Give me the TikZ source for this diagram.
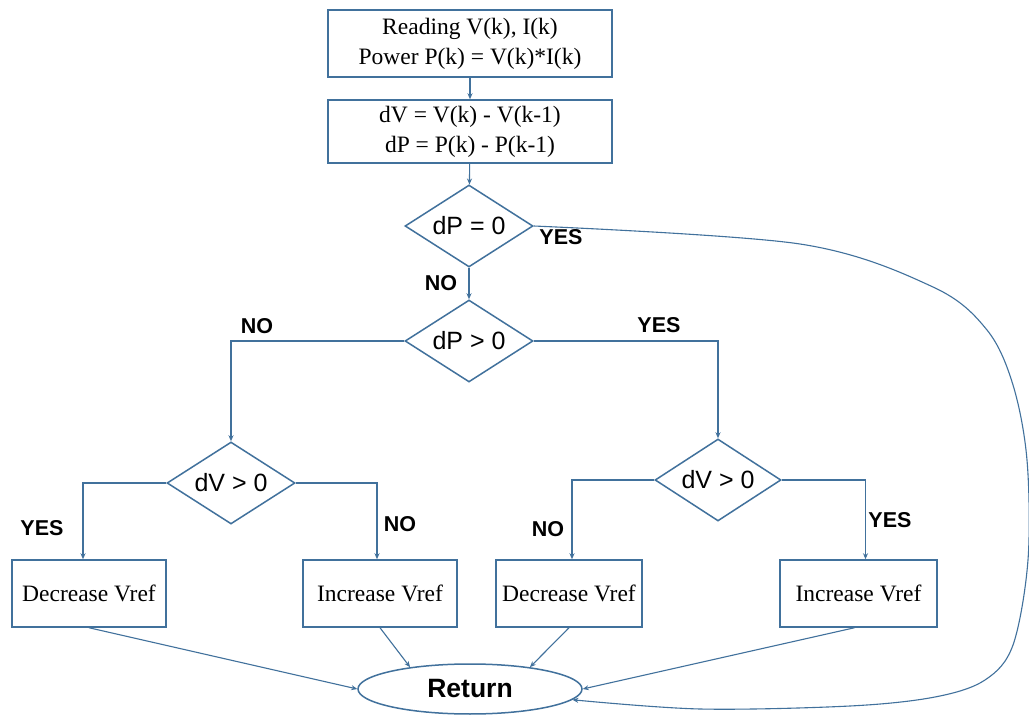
\documentclass[tikz,border=0pt]{standalone}
\usepackage{fontspec}
\setmainfont{Liberation Serif}
\newfontfamily\arial{Liberation Sans}
\usetikzlibrary{shapes.geometric,arrows.meta,calc}
\definecolor{ln}{HTML}{41719C}
\begin{document}
\begin{tikzpicture}[x=1pt,y=-1pt,
  box/.style={draw=ln,line width=1.5pt,rectangle,inner sep=0pt,align=center,font=\fontsize{23.5}{30}\selectfont},
  dia/.style={draw=ln,line width=1.5pt,diamond,inner sep=0pt,minimum width=128pt,minimum height=82pt},
  diatext/.style={font=\arial\fontsize{25}{28}\selectfont,inner sep=0pt},
  lab/.style={font=\arial\bfseries\fontsize{21.5}{24}\selectfont,inner sep=0pt},
  conn/.style={draw=ln,line width=1.1pt,-{Stealth[length=6pt,width=5pt]}}]
\useasboundingbox (0,0) rectangle (1029,719);
\fill[white] (0,0) rectangle (1029,719);
\node[box,minimum width=284pt,minimum height=67pt] (b1) at (470,43.5) {Reading V(k), I(k)\\Power P(k) = V(k)*I(k)};
\node[box,minimum width=284pt,minimum height=63pt] (b2) at (470,131.5) {dV = V(k) - V(k-1)\\dP = P(k) - P(k-1)};
\node[dia,label={[diatext]center:dP = 0}] (d1) at (469,226) {};
\node[dia,label={[diatext]center:dP > 0}] (d2) at (469,341) {};
\node[dia,label={[diatext]center:dV > 0}] (d3) at (231,483) {};
\node[dia,minimum width=126pt,label={[diatext]center:dV > 0}] (d4) at (718,480) {};
\node[box,minimum width=154pt,minimum height=67pt] (b3) at (89,593.5) {Decrease Vref};
\node[box,minimum width=154pt,minimum height=67pt] (b4) at (380,593.5) {Increase Vref};
\node[box,minimum width=146pt,minimum height=67pt] (b5) at (569,593.5) {Decrease Vref};
\node[box,minimum width=157pt,minimum height=67pt] (b6) at (858.5,593.5) {Increase Vref};
\node[draw=ln,line width=1.5pt,ellipse,minimum width=224pt,minimum height=50pt,inner sep=0pt,font=\arial\bfseries\fontsize{26.5}{30}\selectfont] (ret) at (470,689) {Return};
\node[lab] (l1) at (441,283) {NO};
\node[lab] (l2) at (561,237) {YES};
\node[lab] (l3) at (257,326) {NO};
\node[lab] (l4) at (659,325) {YES};
\node[lab] (l5) at (42,528) {YES};
\node[lab] (l6) at (400,524) {NO};
\node[lab] (l7) at (548,529) {NO};
\node[lab] (l8) at (890,520) {YES};
\draw[conn] (b1) -- (b2);
\draw[conn] (b2) -- (d1);
\draw[conn] (d1) -- (d2);
\draw[conn] (d2.west) -| (d3.north);
\draw[conn] (d2.east) -| (d4.north);
\draw[conn] (d3.west) -| ([xshift=-6pt]b3.north);
\draw[conn] (d3.east) -| ([xshift=-3pt]b4.north);
\draw[conn] (d4.west) -| ([xshift=3pt]b5.north);
\draw[conn] (d4.east) -| ([xshift=7pt]b6.north);
\draw[conn] (b3.south) -- (ret.west);
\draw[conn] (b4.south) -- (ret.160);
\draw[conn] (b5.south) -- (ret.20);
\draw[conn] ([xshift=-4pt]b6.south) -- (ret.east);
\draw[conn] plot[smooth,tension=0.55] coordinates {(d1.east) (800,244) (933,287) (987,330) (1013,385) (1027,460) (1028,560) (1013,645) (985,680) (935,697) (850,706) (700,709) (ret.-6)};
\end{tikzpicture}
\end{document}
